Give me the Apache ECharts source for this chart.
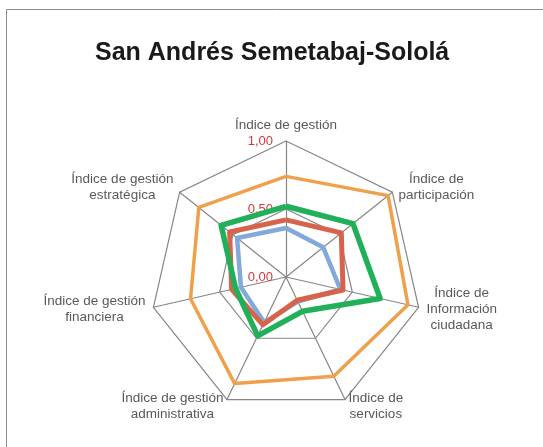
<!DOCTYPE html>
<html>
<head>
<meta charset="utf-8">
<script src="https://cdn.jsdelivr.net/npm/echarts@6/dist/echarts.min.js"></script>
<style>
  html, body { margin: 0; padding: 0; background: #fff; }
  #chart { width: 543px; height: 447px; }
</style>
</head>
<body>
<div id="chart"></div>
<script>
// indicators in clockwise order, starting at the top (as in the original)
const indicators = [
  'Índice de gestión',
  'Índice de\nparticipación',
  'Índice de\nInformación\nciudadana',
  'Índice de\nservicios',
  'Índice de gestión\nadministrativa',
  'Índice de gestión\nfinanciera',
  'Índice de gestión\nestratégica'
];
const tickLabels = [0, 0.5, 1];

const orangeValues = [0.74, 0.96, 0.92, 0.81, 0.87, 0.72, 0.82];
const greenValues  = [0.52, 0.63, 0.71, 0.28, 0.48, 0.38, 0.61];
const redValues    = [0.42, 0.52, 0.43, 0.19, 0.39, 0.41, 0.53];
const blueValues   = [0.36, 0.35, 0.41, 0.20, 0.37, 0.34, 0.46];

// echarts lays radar axes out counter-clockwise, so flip everything after the first
const ccw = (arr) => [arr[0]].concat(arr.slice(1).reverse());

const fmt = (v) => v.toFixed(2).replace('.', ',');

const chart = echarts.init(document.getElementById('chart'));

const indicatorOpts = ccw(indicators).map((name, i) => {
  const o = { name: name, min: tickLabels[0], max: tickLabels[tickLabels.length - 1] };
  if (i === 0) {
    o.axisLabel = {
      show: true,
      color: '#D6373E',
      fontSize: 13,
      fontFamily: 'Liberation Sans',
      margin: 13,
      formatter: fmt
    };
  }
  return o;
});

const line = (name, values, color, width, z) => ({
  name: name,
  type: 'radar',
  z: z,
  symbol: 'none',
  lineStyle: { color: color, width: width },
  itemStyle: { color: color },
  data: [{ value: ccw(values) }]
});

chart.setOption({
  animation: false,
  title: {
    text: 'San Andrés Semetabaj-Sololá',
    left: 90,
    top: 36,
    textStyle: { fontFamily: 'Liberation Sans', fontWeight: 'bold', fontSize: 25, color: '#1a1a1a' }
  },
  graphic: [{
    type: 'rect',
    shape: { x: 6.5, y: 9.5, width: 560, height: 460 },
    style: { fill: 'none', stroke: '#8c8c8c', lineWidth: 1 },
    silent: true
  }],
  radar: {
    center: [286, 277],
    radius: 136,
    startAngle: 90,
    splitNumber: tickLabels.length - 1,
    shape: 'polygon',
    indicator: indicatorOpts,
    nameGap: 8,
    axisName: {
      color: '#595959',
      fontSize: 13.5,
      fontFamily: 'Liberation Sans',
      formatter: (name) => name.split('\n').map(s => '{c|' + s + '}').join('\n'),
      rich: {
        c: { align: 'center', color: '#595959', fontSize: 13.5, fontFamily: 'Liberation Sans', lineHeight: 16 }
      }
    },
    axisLine: { lineStyle: { color: '#868686', width: 1.2 } },
    splitLine: { lineStyle: { color: '#868686', width: 1.2 } },
    splitArea: { show: false },
    axisTick: { show: false },
    axisLabel: { show: false }
  },
  series: [
    line('Serie 4', blueValues, '#82A9D9', 4.5, 2),
    line('Serie 3', redValues, '#D6634A', 5, 3),
    line('Serie 1', orangeValues, '#F0A04B', 3.5, 4),
    line('Serie 2', greenValues, '#21B05A', 5.5, 5)
  ]
});
</script>
</body>
</html>
